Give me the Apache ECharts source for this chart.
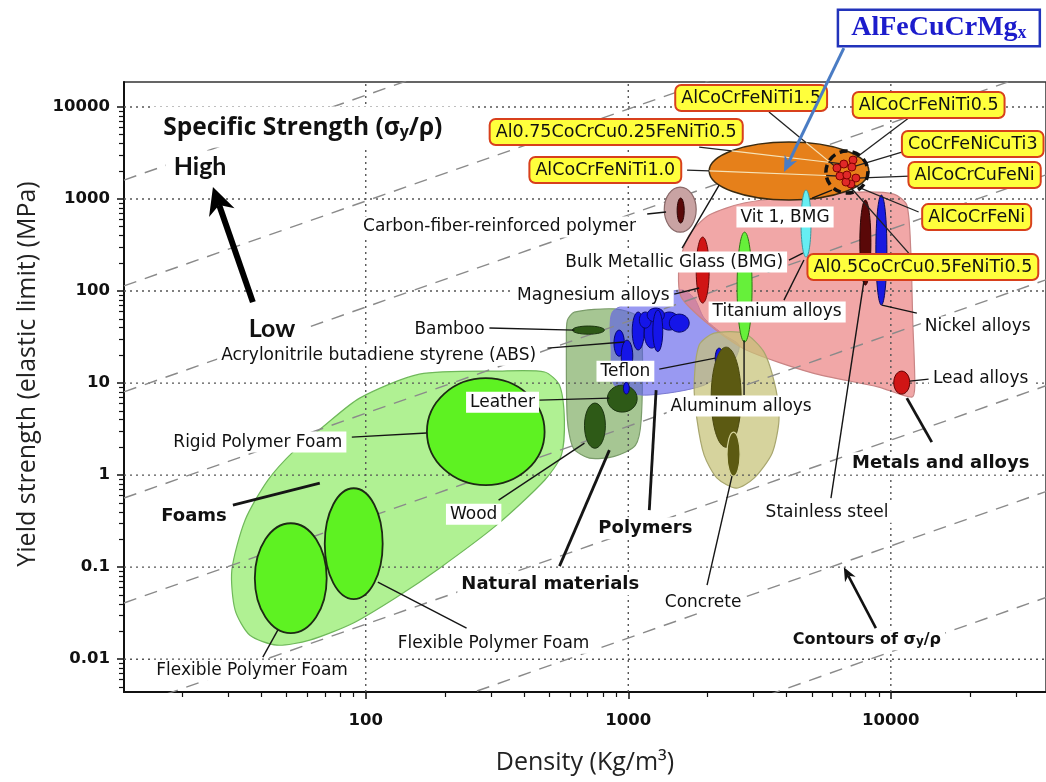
<!DOCTYPE html>
<html lang="en">
<head>
<meta charset="utf-8">
<title>Yield strength vs density</title>
<script src="https://cdn.jsdelivr.net/npm/echarts@6/dist/echarts.min.js"></script>
<style>
  html, body { margin: 0; padding: 0; background: #ffffff; }
  #chart { width: 1046px; height: 782px; }
</style>
</head>
<body>
<div id="chart"></div>
<script>
const L = Math.log10;

// ---------- axis extents and decade ticks ----------
const densityRange = [12, 39000];          // kg/m3
const strengthRange = [0.0044, 18700];     // MPa
const densityTicks = [100, 1000, 10000];
const densityTickLabels = ['100', '1000', '10000'];
const strengthTicks = [0.01, 0.1, 1, 10, 100, 1000, 10000];
const strengthTickLabels = ['0.01', '0.1', '1', '10', '100', '1000', '10000'];

// guide lines of constant specific strength sigma_y / rho (MPa per kg/m3)
const contourRatios = [1900, 134, 9.5, 0.67, 0.047, 0.0034, 0.00024, 0.000017, 0.0000012];

// ---------- material family envelopes: [density, yield strength] ----------
const foamEnvelope = [[68.6, 3.33], [94.8, 6.87], [160, 12.5], [323, 13.5], [480, 13.2], [547, 9.5], [571, 3.96],
  [556, 1.65], [480, 0.88], [315, 0.286], [191, 0.0975], [131, 0.0472], [89.3, 0.0246], [61.2, 0.0161],
  [45.9, 0.0142], [36.2, 0.0182], [31.8, 0.0341], [30.9, 0.0927], [34.7, 0.324], [42.4, 0.883], [53.7, 1.87]];
const naturalEnvelope = [[623, 59], [885, 64], [1082, 53], [1130, 26], [1120, 4.0], [1064, 2.1], [885, 1.6],
  [711, 1.53], [618, 1.96], [586, 4.0], [581, 29], [586, 48]];
const polymerEnvelope = [[869, 59], [1102, 80], [1591, 103], [1782, 84], [1945, 51], [2318, 33.3], [2643, 25.9],
  [2530, 17.8], [1945, 9.5], [1151, 7.4], [885, 9.5], [861, 22.9]];
const metalEnvelope = [[1563, 192], [1706, 406], [2033, 670], [2762, 905], [4467, 1079], [7551, 1191],
  [10260, 1133], [11500, 861], [11910, 279], [12120, 48], [12340, 9.5], [12020, 7.05], [8995, 9.06],
  [5012, 12.9], [2812, 22.9], [2084, 40.6], [1591, 86]];
const ceramicEnvelope = [[1862, 25.9], [2124, 34.9], [2762, 34.9], [3289, 21.7], [3656, 8.4], [3750, 3.96],
  [3531, 1.73], [3013, 0.927], [2576, 0.722], [2178, 0.927], [1945, 1.65], [1828, 3.96], [1782, 9.5]];

// ---------- material bubbles: [name, density min, density max, strength min, strength max] ----------
const foamBubbles = [
  ['Rigid polymer foam', 171, 480, 0.78, 11.3],
  ['Flexible polymer foam, low density', 37.8, 71, 0.0192, 0.30],
  ['Flexible polymer foam', 69.8, 116, 0.045, 0.72]
];
const naturalBubbles = [
  ['Bamboo', 612, 811, 34, 41.7],
  ['Leather', 832, 1081, 4.84, 9.5],
  ['Wood', 681, 818, 1.96, 6.07]
];
const polymerBubbles = [
  ['PMMA', 1035, 1150, 22.9, 59.2],
  ['PC', 1150, 1311, 24.0, 51.0],
  ['PA', 1102, 1223, 39.6, 59.2],
  ['PVC', 1313, 1561, 37.7, 59.2],
  ['PEEK', 1433, 1706, 35.8, 56.2],
  ['PS', 1180, 1372, 46.0, 65.3],
  ['PET', 1240, 1353, 22.0, 62.0],
  ['ABS', 882, 966, 19.6, 37.7],
  ['PP', 940, 1040, 13.2, 29.3],
  ['PE', 958, 1009, 7.6, 10.2],
  ['Teflon', 2143, 2297, 14.6, 24.0]
];
const ceramicBubbles = [
  ['Concrete and stone', 2069, 2690, 2.01, 24.6],
  ['Concrete', 2377, 2666, 0.975, 2.93]
];
const compositeBubbles = [
  ['Carbon-fiber-reinforced polymer range', 1371, 1814, 437, 1349],
  ['Carbon-fiber-reinforced polymer', 1535, 1633, 548, 1026]
];
const metalBubbles = [
  ['Magnesium alloys', 1814, 2033, 74.1, 386],
  ['Aluminum alloys', 2597, 2961, 27.9, 437],
  ['Vit 1, BMG', 4550, 4966, 234, 1253],
  ['Stainless steel', 7621, 8395, 116, 975],
  ['Nickel alloys', 8770, 9660, 70.5, 1104],
  ['Lead alloys', 10260, 11800, 7.59, 13.5]
];
const mgAlloyRange = ['AlFeCuCrMgx', 2033, 8245, 975, 4169];

// high-entropy alloys: [name, density, yield strength]
const heaAlloys = [
  ['AlCoCrFeNiTi1.5', 6234, 2173],
  ['AlCoCrFeNiTi0.5', 7178, 2654],
  ['Al0.75CoCrCu0.25FeNiTi0.5', 6622, 2401],
  ['AlCoCrFeNiTi1.0', 6397, 1778],
  ['CoCrFeNiCuTi3', 7107, 2227],
  ['AlCoCrCuFeNi', 7362, 1691],
  ['AlCoCrFeNi', 7047, 1456],
  ['Al0.5CoCrCu0.5FeNiTi0.5', 6745, 1530],
  ['HEA', 6803, 1824]
];
const heaClusterCentre = [6803, 1963];

// ---------- annotation layout, in axis units (log10 density, log10 strength) ----------
// [text, x, y, kind]
const labelPlacement = [
  ['Specific Strength (σ{s|y}/ρ)', 1.179, 3.783, 'title'],
  ['High', 1.369, 3.348, 'big'],
  ['Low', 1.643, 1.587, 'big'],
  ['Carbon-fiber-reinforced polymer', 2.5095, 2.696, 'plain'],
  ['Vit 1, BMG', 3.597, 2.804, 'plain'],
  ['Bulk Metallic Glass (BMG)', 3.175, 2.315, 'plain'],
  ['Magnesium alloys', 2.867, 1.946, 'plain'],
  ['Titanium alloys', 3.567, 1.772, 'plain'],
  ['Bamboo', 2.319, 1.587, 'plain'],
  ['Acrylonitrile butadiene styrene (ABS)', 2.049, 1.304, 'plain'],
  ['Teflon', 2.989, 1.130, 'plain'],
  ['Leather', 2.521, 0.793, 'plain'],
  ['Rigid Polymer Foam', 1.589, 0.359, 'plain'],
  ['Wood', 2.411, -0.424, 'plain'],
  ['Flexible Polymer Foam', 2.487, -1.826, 'plain'],
  ['Flexible Polymer Foam', 1.567, -2.120, 'plain'],
  ['Aluminum alloys', 3.430, 0.750, 'plain'],
  ['Concrete', 3.285, -1.380, 'plain'],
  ['Stainless steel', 3.757, -0.402, 'plain'],
  ['Lead alloys', 4.342, 1.054, 'plain'],
  ['Nickel alloys', 4.331, 1.609, 'plain'],
  ['Foams', 1.346, -0.446, 'bold'],
  ['Natural materials', 2.703, -1.185, 'bold'],
  ['Polymers', 3.065, -0.576, 'bold'],
  ['Metals and alloys', 4.190, 0.130, 'bold'],
  ['Contours of σ{s|y}/ρ', 3.909, -1.793, 'contour'],
  ['AlFeCuCrMg{s|x}', 4.183, 4.859, 'callout']
];

// HEA tags: [label x, label y, leader start x, leader start y], one per alloy above
const heaLabelPlacement = [
  [3.468, 4.098, 3.536, 3.946],
  [4.144, 4.022, 4.068, 3.880],
  [2.954, 3.728, 3.270, 3.565],
  [2.9125, 3.315, 3.224, 3.315],
  [4.312, 3.598, 4.042, 3.511],
  [4.319, 3.261, 4.072, 3.250],
  [4.327, 2.804, 4.106, 2.859],
  [4.122, 2.261, 4.068, 2.413]
];

// leader lines: [x1, y1, x2, y2, heavy]
const leaderPlacement = [
  [3.072, 2.837, 3.144, 2.859, 0],
  [3.612, 2.337, 3.665, 2.413, 0],
  [3.175, 1.967, 3.270, 2.033, 0],
  [3.593, 1.902, 3.669, 2.337, 0],
  [2.471, 1.598, 2.795, 1.576, 0],
  [2.692, 1.380, 2.985, 1.446, 0],
  [3.118, 1.152, 3.331, 1.272, 0],
  [2.662, 0.815, 2.928, 0.837, 0],
  [1.947, 0.413, 2.232, 0.457, 0],
  [1.494, -0.326, 1.825, -0.087, 1],
  [2.506, -0.272, 2.833, 0.348, 0],
  [2.738, -0.989, 2.928, 0.272, 1],
  [3.080, -0.380, 3.106, 0.924, 1],
  [2.384, -1.663, 2.046, -1.163, 0],
  [1.608, -1.978, 1.665, -1.685, 0],
  [3.441, 1.467, 3.441, 0.870, 0],
  [3.300, -1.196, 3.395, -0.011, 0],
  [3.772, -0.250, 3.901, 2.174, 0],
  [4.156, 0.359, 4.061, 0.837, 1],
  [4.072, 1.022, 4.144, 1.043, 0],
  [3.966, 1.848, 4.099, 1.761, 0],
  [3.346, 3.152, 3.205, 2.467, 0],
  [3.776, 3.098, 3.700, 3.011, 0]
];

// arrows: [x tail, y tail, x tip, y tip]
const arrowPlacement = [
  [1.570, 1.880, 1.418, 3.130],
  [3.943, -1.663, 3.821, -1.0],
  [3.821, 4.641, 3.593, 3.293]
];

// ---------- styles ----------
const arrowStyles = [
  { color: '#000000', width: 6, head: 27, headWidth: 27 },
  { color: '#111111', width: 2.6, head: 14, headWidth: 12 },
  { color: '#4a7cc4', width: 3, head: 16, headWidth: 14 }
];
const envelopeStyles = {
  foam: { fill: 'rgba(145,235,106,0.72)', stroke: '#6fb85a', lineWidth: 1.2 },
  natural: { fill: 'rgba(131,176,105,0.72)', stroke: '#7a9c6a', lineWidth: 1.2 },
  polymer: { fill: 'rgba(91,91,234,0.62)', stroke: '#7b7bd0', lineWidth: 1 },
  metal: { fill: 'rgba(234,126,126,0.68)', stroke: '#c98585', lineWidth: 1.2 },
  ceramic: { fill: 'rgba(198,194,119,0.72)', stroke: '#a8a66e', lineWidth: 1.2 }
};
const foamBubbleStyle = { fill: '#5ef222', stroke: '#1d2a14', lineWidth: 1.8 };
const naturalBubbleStyle = { fill: '#2e5a17', stroke: '#1b3510', lineWidth: 1 };
const polymerBubbleStyle = { fill: '#1515e8', stroke: '#08086a', lineWidth: 1 };
const ceramicBubbleStyles = [
  { fill: '#5c5a12', stroke: '#4a4810', lineWidth: 1 },
  { fill: '#5c5a12', stroke: '#d6d49c', lineWidth: 1.2 }
];
const compositeBubbleStyles = [
  { fill: '#c9a3a3', stroke: '#8a6a6a', lineWidth: 1.2 },
  { fill: '#5a0808', stroke: '#2a0505', lineWidth: 1 }
];
const metalBubbleStyles = [
  { fill: '#d01515', stroke: '#6a0a0a', lineWidth: 1 },
  { fill: '#66f03a', stroke: '#2a7a10', lineWidth: 1 },
  { fill: '#66eef2', stroke: '#3a9aa0', lineWidth: 1 },
  { fill: '#5a0808', stroke: '#2a0505', lineWidth: 1 },
  { fill: '#1a1ae0', stroke: '#0a0a60', lineWidth: 1 },
  { fill: '#d01515', stroke: '#600000', lineWidth: 1 }
];
const heaRangeStyle = { fill: '#e6801a', stroke: '#3a2a10', lineWidth: 1.5 };
const heaDotStyle = { fill: '#e02828', stroke: '#7a0000', lineWidth: 1 };
const gridLineStyle = { stroke: '#555555', lineWidth: 1.4, lineDash: [2, 4] };
const subStyle = (size, weight, family, fill) => ({
  fontSize: size, fontWeight: weight, fontFamily: family, fill: fill, verticalAlign: 'bottom'
});
const textKinds = {
  plain: { fontFamily: 'DejaVu Sans', fontSize: 17, fill: '#111', backgroundColor: '#ffffff', padding: [2, 4] },
  bold: { fontFamily: 'DejaVu Sans', fontSize: 18, fontWeight: 'bold', fill: '#111', backgroundColor: '#ffffff', padding: [2, 4] },
  contour: { fontFamily: 'DejaVu Sans', fontSize: 16, fontWeight: 'bold', fill: '#111', backgroundColor: '#ffffff', padding: [2, 4],
    rich: { s: subStyle(12, 'bold', 'DejaVu Sans', '#111') } },
  big: { fontFamily: 'Lato', fontSize: 25, fontWeight: 'bold', fill: '#111', backgroundColor: '#ffffff', padding: [4, 8] },
  title: { fontFamily: 'Open Sans', fontSize: 24.5, fontWeight: 'bold', fill: '#111', backgroundColor: '#ffffff', padding: [9, 30, 7, 13],
    align: 'left', rich: { s: subStyle(16, 'bold', 'Open Sans', '#111') } },
  hea: { fontFamily: 'DejaVu Sans', fontSize: 17.5, fill: '#111', backgroundColor: '#ffff3c', borderColor: '#d8401c',
    borderWidth: 2, borderRadius: 5, padding: [3, 5] },
  callout: { fontFamily: 'Liberation Serif', fontSize: 28, fontWeight: 'bold', fill: '#1c1ccc', backgroundColor: '#ffffff',
    borderColor: '#2233bb', borderWidth: 2.5, padding: [3, 12, 3, 12],
    rich: { s: subStyle(18, 'bold', 'Liberation Serif', '#1c1ccc') } }
};

// ---------- helpers ----------
const xMin = L(densityRange[0]), xMax = L(densityRange[1]);
const yMin = L(strengthRange[0]), yMax = L(strengthRange[1]);

function minorTicks(lo, hi) {
  const out = [];
  for (let k = Math.floor(lo) - 1; k <= Math.ceil(hi); k++) {
    for (let m = 2; m <= 9; m++) {
      const v = k + L(m);
      if (v > lo && v < hi) out.push(v);
    }
  }
  return out;
}
function tickFormatter(values, labels) {
  return function (v) {
    for (let i = 0; i < values.length; i++) {
      if (Math.abs(L(values[i]) - v) < 1e-6) return labels[i];
    }
    return '';
  };
}
function pick(style, i) { return Array.isArray(style) ? style[i] : style; }

function envelopeSeries(points, style, z) {
  return {
    type: 'custom', z: z, silent: true,
    data: points.map(p => [L(p[0]), L(p[1])]),
    encode: { x: 0, y: 1 },
    renderItem(params, api) {
      if (params.dataIndexInside !== 0) return null;
      const pts = [];
      for (let i = 0; i < params.dataInsideLength; i++) {
        pts.push(api.coord([api.value(0, i), api.value(1, i)]));
      }
      return { type: 'polygon', shape: { points: pts, smooth: 0.25 }, style: style };
    }
  };
}

function bubbleSeries(rows, style, z) {
  return {
    type: 'custom', z: z, silent: true,
    data: rows.map(r => [L(r[1]), L(r[2]), L(r[3]), L(r[4])]),
    encode: { x: [0, 1], y: [2, 3] },
    renderItem(params, api) {
      const a = api.coord([api.value(0), api.value(3)]);
      const b = api.coord([api.value(1), api.value(2)]);
      return {
        type: 'ellipse',
        shape: { cx: (a[0] + b[0]) / 2, cy: (a[1] + b[1]) / 2, rx: Math.abs(b[0] - a[0]) / 2, ry: Math.abs(b[1] - a[1]) / 2 },
        style: pick(style, params.dataIndex)
      };
    }
  };
}

// parameter interval of segment p->q lying inside an axis-aligned ellipse
function insideInterval(p, q, c, rx, ry) {
  const dx = (q[0] - p[0]) / rx, dy = (q[1] - p[1]) / ry;
  const fx = (p[0] - c[0]) / rx, fy = (p[1] - c[1]) / ry;
  const A = dx * dx + dy * dy, B = 2 * (fx * dx + fy * dy), C = fx * fx + fy * fy - 1;
  const D = B * B - 4 * A * C;
  if (D <= 0) return null;
  const s = Math.sqrt(D);
  const t0 = Math.max(0, (-B - s) / (2 * A)), t1 = Math.min(1, (-B + s) / (2 * A));
  return t0 < t1 ? [t0, t1] : null;
}
const lerp = (p, q, t) => [p[0] + (q[0] - p[0]) * t, p[1] + (q[1] - p[1]) * t];
const seg = (a, b, stroke, w) => ({ type: 'line', shape: { x1: a[0], y1: a[1], x2: b[0], y2: b[1] }, style: { stroke: stroke, lineWidth: w } });

function textElement(text, p, kind) {
  const k = textKinds[kind];
  const style = Object.assign({ text: text, align: 'center', verticalAlign: 'middle' }, k);
  return { type: 'text', x: p[0], y: p[1], style: style };
}

// ---------- series ----------
const series = [];
series.push(envelopeSeries(foamEnvelope, envelopeStyles.foam, 1));
series.push(envelopeSeries(naturalEnvelope, envelopeStyles.natural, 2));
series.push(envelopeSeries(polymerEnvelope, envelopeStyles.polymer, 3));
series.push(envelopeSeries(metalEnvelope, envelopeStyles.metal, 4));
series.push(envelopeSeries(ceramicEnvelope, envelopeStyles.ceramic, 5));

// dotted decade grid
series.push({
  type: 'custom', z: 6, silent: true,
  data: densityTicks.map(v => [L(v), yMin]),
  encode: { x: 0, y: 1 },
  renderItem(params, api) {
    const p = api.coord([api.value(0), yMin]), q = api.coord([api.value(0), yMax]);
    return { type: 'line', shape: { x1: p[0], y1: p[1], x2: q[0], y2: q[1] }, style: gridLineStyle };
  }
});
series.push({
  type: 'custom', z: 6, silent: true,
  data: strengthTicks.map(v => [xMin, L(v)]),
  encode: { x: 0, y: 1 },
  renderItem(params, api) {
    const p = api.coord([xMin, api.value(1)]), q = api.coord([xMax, api.value(1)]);
    return { type: 'line', shape: { x1: p[0], y1: p[1], x2: q[0], y2: q[1] }, style: gridLineStyle };
  }
});

// specific-strength contours (slope 1 in log-log space)
contourRatios.forEach(r => {
  series.push({
    type: 'line', z: 7, silent: true, symbol: 'none', clip: true,
    data: [[xMin, xMin + L(r)], [xMax, xMax + L(r)]],
    lineStyle: { color: '#8a8a8a', width: 1.4, type: [13, 9] }
  });
});

series.push(bubbleSeries(foamBubbles, foamBubbleStyle, 8));
series.push(bubbleSeries(naturalBubbles, naturalBubbleStyle, 8));
series.push(bubbleSeries(polymerBubbles, polymerBubbleStyle, 8));
series.push(bubbleSeries(ceramicBubbles, ceramicBubbleStyles, 8));
series.push(bubbleSeries(compositeBubbles, compositeBubbleStyles, 8));
series.push(bubbleSeries([mgAlloyRange], heaRangeStyle, 9));
series.push(bubbleSeries(metalBubbles, metalBubbleStyles, 10));

// leader lines
series.push({
  type: 'custom', z: 11, silent: true,
  data: leaderPlacement,
  encode: { x: [0, 2], y: [1, 3] },
  renderItem(params, api) {
    const p = api.coord([api.value(0), api.value(1)]), q = api.coord([api.value(2), api.value(3)]);
    return seg(p, q, '#151515', api.value(4) ? 2.8 : 1.4);
  }
});

// HEA leaders, drawn pale where they cross the AlFeCuCrMgx region
series.push({
  type: 'custom', z: 11, silent: true,
  data: heaLabelPlacement.map((r, i) => [r[2], r[3], L(heaAlloys[i][1]), L(heaAlloys[i][2])]),
  encode: { x: [0, 2], y: [1, 3] },
  renderItem(params, api) {
    const p = api.coord([api.value(0), api.value(1)]), q = api.coord([api.value(2), api.value(3)]);
    const a = api.coord([L(mgAlloyRange[1]), L(mgAlloyRange[4])]);
    const b = api.coord([L(mgAlloyRange[2]), L(mgAlloyRange[3])]);
    const c = [(a[0] + b[0]) / 2, (a[1] + b[1]) / 2];
    const rx = Math.abs(b[0] - a[0]) / 2, ry = Math.abs(b[1] - a[1]) / 2;
    const cc = api.coord([L(heaClusterCentre[0]), L(heaClusterCentre[1])]);
    const inE = insideInterval(p, q, c, rx, ry);
    const inC = insideInterval(p, q, cc, 21, 21);
    if (!inE) return seg(p, q, '#222', 1.3);
    let t0 = inE[0], t1 = inE[1];
    if (inC) t1 = Math.min(t1, inC[0]);
    if (t1 <= t0) return seg(p, q, '#222', 1.3);
    return {
      type: 'group', children: [
        seg(p, lerp(p, q, t0), '#222', 1.3),
        seg(lerp(p, q, t0), lerp(p, q, t1), '#f6e3b8', 1.2),
        seg(lerp(p, q, t1), q, '#222', 1.3)
      ]
    };
  }
});

// dashed ring round the HEA cluster and the alloy points
series.push({
  type: 'custom', z: 12, silent: true,
  data: [[L(heaClusterCentre[0]), L(heaClusterCentre[1])]],
  encode: { x: 0, y: 1 },
  renderItem(params, api) {
    const p = api.coord([api.value(0), api.value(1)]);
    return { type: 'circle', shape: { cx: p[0], cy: p[1], r: 21 },
      style: { fill: 'none', stroke: '#111', lineWidth: 3.5, lineDash: [8, 5] } };
  }
});
series.push({
  type: 'custom', z: 13, silent: true,
  data: heaAlloys.map(h => [L(h[1]), L(h[2])]),
  encode: { x: 0, y: 1 },
  renderItem(params, api) {
    const p = api.coord([api.value(0), api.value(1)]);
    return { type: 'circle', shape: { cx: p[0], cy: p[1], r: 4 }, style: heaDotStyle };
  }
});

// text labels
series.push({
  type: 'custom', z: 14, silent: true,
  data: labelPlacement.map(r => [r[1], r[2]]),
  encode: { x: 0, y: 1 },
  renderItem(params, api) {
    const r = labelPlacement[params.dataIndex];
    return textElement(r[0], api.coord([api.value(0), api.value(1)]), r[3]);
  }
});
series.push({
  type: 'custom', z: 14, silent: true,
  data: heaLabelPlacement.map(r => [r[0], r[1]]),
  encode: { x: 0, y: 1 },
  renderItem(params, api) {
    return textElement(heaAlloys[params.dataIndex][0], api.coord([api.value(0), api.value(1)]), 'hea');
  }
});

// arrows
series.push({
  type: 'custom', z: 15, silent: true,
  data: arrowPlacement,
  encode: { x: [0, 2], y: [1, 3] },
  renderItem(params, api) {
    const st = arrowStyles[params.dataIndex];
    const p = api.coord([api.value(0), api.value(1)]), q = api.coord([api.value(2), api.value(3)]);
    const dx = q[0] - p[0], dy = q[1] - p[1], len = Math.hypot(dx, dy);
    const ux = dx / len, uy = dy / len;
    const bx = q[0] - ux * st.head, by = q[1] - uy * st.head;
    const nx = q[0] - ux * st.head * 0.7, ny = q[1] - uy * st.head * 0.7;
    const hw = st.headWidth / 2;
    return {
      type: 'group', children: [
        { type: 'line', shape: { x1: p[0], y1: p[1], x2: nx, y2: ny }, style: { stroke: st.color, lineWidth: st.width } },
        { type: 'polygon', shape: { points: [[q[0], q[1]], [bx - uy * hw, by + ux * hw], [nx, ny], [bx + uy * hw, by - ux * hw]] },
          style: { fill: st.color } }
      ]
    };
  }
});

// ---------- axes ----------
const tickLabelStyle = { fontFamily: 'DejaVu Sans', fontWeight: 'bold', fontSize: 16.5, color: '#111' };
const axisNameStyle = { fontFamily: 'Open Sans', fontSize: 25, color: '#222' };

const option = {
  animation: false,
  backgroundColor: '#ffffff',
  grid: { left: 124, right: -2, top: 82, bottom: 90, show: true, borderColor: '#333', borderWidth: 1.5 },
  xAxis: [
    {
      type: 'value', min: xMin, max: xMax, position: 'bottom',
      name: 'Density (Kg/m³)', nameLocation: 'middle', nameGap: 58, nameTextStyle: axisNameStyle,
      axisLine: { show: true, onZero: false, lineStyle: { color: '#111', width: 2 } },
      axisTick: { show: true, customValues: densityTicks.map(L), length: 7, lineStyle: { color: '#111', width: 1.5 } },
      axisLabel: Object.assign({ customValues: densityTicks.map(L), margin: 20,
        formatter: tickFormatter(densityTicks, densityTickLabels) }, tickLabelStyle),
      splitLine: { show: false }
    },
    {
      type: 'value', min: xMin, max: xMax, position: 'bottom',
      axisLine: { show: false, onZero: false },
      axisTick: { show: true, customValues: minorTicks(xMin, xMax), length: 5, lineStyle: { color: '#111', width: 1.2 } },
      axisLabel: { show: false },
      splitLine: { show: false }
    }
  ],
  yAxis: [
    {
      type: 'value', min: yMin, max: yMax, position: 'left',
      name: 'Yield strength (elastic limit) (MPa)', nameLocation: 'middle', nameGap: 84,
      nameTextStyle: Object.assign({ padding: [0, 0, 0, 26] }, axisNameStyle),
      axisLine: { show: true, onZero: false, lineStyle: { color: '#111', width: 2 } },
      axisTick: { show: true, customValues: strengthTicks.map(L), length: 7, lineStyle: { color: '#111', width: 1.5 } },
      axisLabel: Object.assign({ customValues: strengthTicks.map(L), margin: 14,
        formatter: tickFormatter(strengthTicks, strengthTickLabels) }, tickLabelStyle),
      splitLine: { show: false }
    },
    {
      type: 'value', min: yMin, max: yMax, position: 'left',
      axisLine: { show: false, onZero: false },
      axisTick: { show: true, customValues: minorTicks(yMin, yMax), length: 5, lineStyle: { color: '#111', width: 1.2 } },
      axisLabel: { show: false },
      splitLine: { show: false }
    }
  ],
  series: series
};

const chart = echarts.init(document.getElementById('chart'), null, { renderer: 'canvas' });
chart.setOption(option);
</script>
</body>
</html>
